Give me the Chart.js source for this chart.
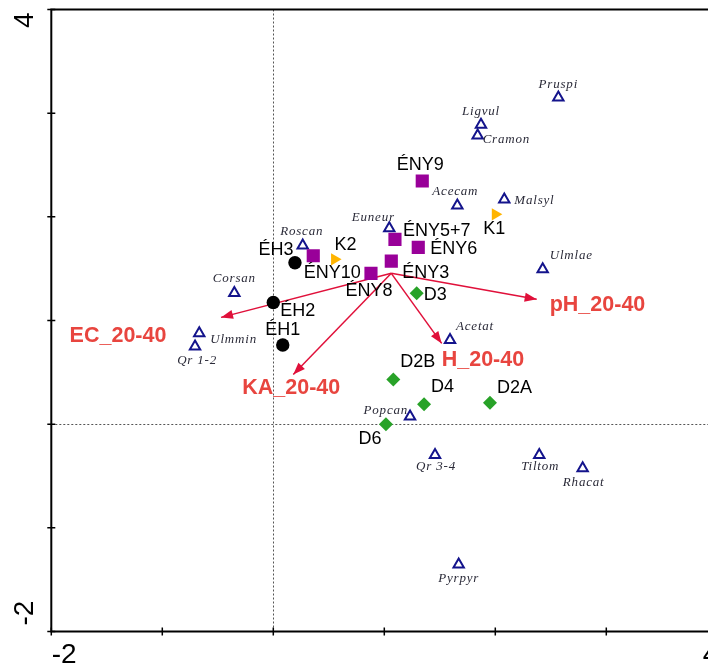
<!DOCTYPE html>
<html>
<head>
<meta charset="utf-8">
<script src="https://cdn.jsdelivr.net/npm/chart.js@4.4.1/dist/chart.umd.min.js"></script>
<style>
  html, body { margin: 0; padding: 0; background: #fff; overflow: hidden; width: 708px; height: 666px; }
  #wrap { position: absolute; left: 0; top: 0; width: 740px; height: 666px; }
</style>
</head>
<body>
<div id="wrap"><canvas id="c" width="740" height="666"></canvas></div>
<script>
// ---------------- DATA ----------------
const axisMin = -2;
const axisMax = 4;
const tickValues = [-2, -1, 0, 1, 2, 3, 4];
const tickLabels = ['-2', '4'];

// Sites
const enyNames = ['ÉNY9', 'ÉNY5+7', 'ÉNY6', 'ÉNY3', 'ÉNY10', 'ÉNY8'];
const enyX = [1.342, 1.096, 1.306, 1.063, 0.360, 0.880];
const enyY = [2.346, 1.783, 1.706, 1.573, 1.625, 1.455];

const kNames = ['K1', 'K2'];
const kX = [2.000, 0.552];
const kY = [2.024, 1.590];

const ehNames = ['ÉH3', 'ÉH2', 'ÉH1'];
const ehX = [0.195, 0.000, 0.085];
const ehY = [1.557, 1.173, 0.763];

const dNames = ['D3', 'D2B', 'D4', 'D2A', 'D6'];
const dX = [1.292, 1.081, 1.358, 1.952, 1.015];
const dY = [1.262, 0.431, 0.193, 0.206, 0.000];

// Species
const speciesNames = ['Pruspi', 'Ligvul', 'Cramon', 'Acecam', 'Malsyl', 'Euneur', 'Roscan', 'Corsan',
  'Ulmmin', 'Qr 1-2', 'Ulmlae', 'Acetat', 'Popcan', 'Qr 3-4', 'Tiltom', 'Rhacat', 'Pyrpyr'];
const speciesX = [2.568, 1.871, 1.841, 1.658, 2.081, 1.045, 0.265, -0.351,
  -0.667, -0.705, 2.427, 1.592, 1.232, 1.457, 2.396, 2.787, 1.670];
const speciesY = [3.152, 2.889, 2.785, 2.110, 2.167, 1.890, 1.723, 1.265,
  0.877, 0.749, 1.495, 0.813, 0.073, -0.297, -0.297, -0.426, -1.353];

// Environmental vectors
const envNames = ['EC_20-40', 'KA_20-40', 'H_20-40', 'pH_20-40'];
const envOriginX = 1.063;
const envOriginY = 1.455;
const envX = [-0.471, 0.180, 1.517, 2.373];
const envY = [1.030, 0.480, 0.779, 1.204];

// ---------------- STYLE ----------------
const SANS = '"Liberation Sans", Arial, sans-serif';
const SERIF = '"Liberation Serif", "Times New Roman", serif';
const arrowColor = '#e0103a';
const envLabelColor = '#e8453f';

// label offsets in px: [dx, dy, align]
const siteLabelPos = {
  'ÉNY9': [-2, -16, 'center'], 'ÉNY5+7': [8, -8, 'left'], 'ÉNY6': [12, 2, 'left'],
  'ÉNY3': [11, 12, 'left'], 'ÉNY10': [19, 17, 'center'], 'ÉNY8': [-2, 18, 'center'],
  'K1': [-1, 15, 'center'], 'K2': [11, -14, 'center'],
  'ÉH3': [-19, -13, 'center'], 'ÉH2': [7, 8, 'left'], 'ÉH1': [0, -15, 'center'],
  'D3': [7, 2, 'left'], 'D2B': [7, -17, 'left'], 'D4': [7, -17, 'left'], 'D2A': [7, -15, 'left'],
  'D6': [-16, 15, 'center']
};
const speciesLabelPos = {
  'Pruspi': [0, -13, 'center'], 'Ligvul': [0, -13, 'center'], 'Cramon': [5, 4, 'left'],
  'Acecam': [-2, -14, 'center'], 'Malsyl': [10, 1, 'left'], 'Euneur': [-16, -11, 'center'],
  'Roscan': [-1, -14, 'center'], 'Corsan': [0, -14, 'center'], 'Ulmmin': [11, 6, 'left'],
  'Qr 1-2': [2, 14, 'center'], 'Ulmlae': [7, -14, 'left'], 'Acetat': [6, -13, 'left'],
  'Popcan': [-2, -6, 'right'], 'Qr 3-4': [1, 12, 'center'], 'Tiltom': [1, 12, 'center'],
  'Rhacat': [1, 14, 'center'], 'Pyrpyr': [0, 14, 'center']
};
const envLabelPos = {
  'EC_20-40': [-103, 19, 'center'], 'KA_20-40': [-2, 14, 'center'],
  'H_20-40': [0, 17, 'left'], 'pH_20-40': [13, 6, 'left']
};

function pts(xs, ys) { return xs.map((x, i) => ({ x: x, y: ys[i] })); }

const datasets = [
  { label: 'ÉH', data: pts(ehX, ehY), pointStyle: 'circle', pointRadius: 6.7,
    backgroundColor: '#000', borderColor: '#000', borderWidth: 0, names: ehNames, kind: 'site' },
  { label: 'ÉNY', data: pts(enyX, enyY), pointStyle: 'rect', pointRadius: 9.3,
    backgroundColor: '#990099', borderColor: '#990099', borderWidth: 0, names: enyNames, kind: 'site' },
  { label: 'K', data: pts(kX, kY), pointStyle: 'triangle', rotation: 90, pointRadius: 7,
    backgroundColor: '#ffb400', borderColor: '#ffb400', borderWidth: 0, names: kNames, kind: 'site' },
  { label: 'D', data: pts(dX, dY), pointStyle: 'rectRot', pointRadius: 7,
    backgroundColor: '#28a228', borderColor: '#28a228', borderWidth: 0, names: dNames, kind: 'site' },
  { label: 'Species', data: pts(speciesX, speciesY), pointStyle: 'triangle', pointRadius: 6,
    backgroundColor: 'rgba(255,255,255,0)', borderColor: '#14148c', borderWidth: 2,
    names: speciesNames, kind: 'species' }
];
envNames.forEach((n, i) => {
  datasets.push({
    label: n, data: [{ x: envOriginX, y: envOriginY }, { x: envX[i], y: envY[i] }],
    showLine: true, pointRadius: 0, borderColor: arrowColor, borderWidth: 1.5, kind: 'env', envIndex: i
  });
});

const biplotPlugin = {
  id: 'biplot',
  beforeDatasetsDraw(chart) {
    const ctx = chart.ctx;
    const xs = chart.scales.x, ys = chart.scales.y;
    const a = chart.chartArea;
    ctx.save();
    // dotted zero lines
    ctx.strokeStyle = '#555';
    ctx.lineWidth = 1;
    ctx.setLineDash([2, 2]);
    const x0 = Math.round(xs.getPixelForValue(0)) + 0.5;
    const y0 = Math.round(ys.getPixelForValue(0)) + 0.5;
    ctx.beginPath();
    ctx.moveTo(x0, a.top); ctx.lineTo(x0, a.bottom);
    ctx.moveTo(a.left, y0); ctx.lineTo(a.right, y0);
    ctx.stroke();
    ctx.setLineDash([]);
    // frame
    ctx.strokeStyle = '#000';
    ctx.lineWidth = 2;
    ctx.strokeRect(a.left, a.top, a.right - a.left, a.bottom - a.top);
    // ticks
    ctx.lineWidth = 1.5;
    ctx.beginPath();
    tickValues.forEach(v => {
      const px = xs.getPixelForValue(v);
      ctx.moveTo(px, a.bottom - 4); ctx.lineTo(px, a.bottom + 4);
      const py = ys.getPixelForValue(v);
      ctx.moveTo(a.left - 4, py); ctx.lineTo(a.left + 4, py);
    });
    ctx.stroke();
    // tick labels
    ctx.fillStyle = '#000';
    ctx.font = '28px ' + SANS;
    ctx.textBaseline = 'middle';
    ctx.textAlign = 'left';
    ctx.fillText(tickLabels[0], xs.getPixelForValue(axisMin) + 0.5, a.bottom + 24);
    ctx.textAlign = 'right';
    ctx.fillText(tickLabels[1], xs.getPixelForValue(axisMax) + 1, a.bottom + 24);
    // y labels rotated
    ctx.save();
    ctx.translate(25, ys.getPixelForValue(axisMin) - 6);
    ctx.rotate(-Math.PI / 2);
    ctx.textAlign = 'left';
    ctx.fillText(tickLabels[0], 0, 0);
    ctx.restore();
    ctx.save();
    ctx.translate(25, ys.getPixelForValue(axisMax) + 3);
    ctx.rotate(-Math.PI / 2);
    ctx.textAlign = 'right';
    ctx.fillText(tickLabels[1], 0, 0);
    ctx.restore();
    ctx.restore();
  },
  afterDatasetsDraw(chart) {
    const ctx = chart.ctx;
    const xs = chart.scales.x, ys = chart.scales.y;
    ctx.save();
    // arrowheads
    const ox = xs.getPixelForValue(envOriginX), oy = ys.getPixelForValue(envOriginY);
    envNames.forEach((n, i) => {
      const tx = xs.getPixelForValue(envX[i]), ty = ys.getPixelForValue(envY[i]);
      const ang = Math.atan2(ty - oy, tx - ox);
      const L = 12, W = 4.5;
      ctx.fillStyle = arrowColor;
      ctx.beginPath();
      ctx.moveTo(tx, ty);
      ctx.lineTo(tx - L * Math.cos(ang) + W * Math.sin(ang), ty - L * Math.sin(ang) - W * Math.cos(ang));
      ctx.lineTo(tx - L * Math.cos(ang) - W * Math.sin(ang), ty - L * Math.sin(ang) + W * Math.cos(ang));
      ctx.closePath();
      ctx.fill();
      const p = envLabelPos[n];
      ctx.font = 'bold 21.5px ' + SANS;
      ctx.fillStyle = envLabelColor;
      ctx.textAlign = p[2];
      ctx.textBaseline = 'middle';
      ctx.fillText(n, tx + p[0], ty + p[1]);
    });
    // point labels
    chart.data.datasets.forEach(ds => {
      if (ds.kind !== 'site' && ds.kind !== 'species') return;
      ds.data.forEach((d, j) => {
        const name = ds.names[j];
        const px = xs.getPixelForValue(d.x), py = ys.getPixelForValue(d.y);
        let p;
        if (ds.kind === 'site') {
          p = siteLabelPos[name];
          ctx.font = '18px ' + SANS;
          ctx.fillStyle = '#000';
          ctx.letterSpacing = '0px';
        } else {
          p = speciesLabelPos[name];
          ctx.font = 'italic 13px ' + SERIF;
          ctx.fillStyle = '#2a2a38';
          ctx.letterSpacing = '0.8px';
        }
        ctx.textAlign = p[2];
        ctx.textBaseline = 'middle';
        ctx.fillText(name, px + p[0], py + p[1]);
      });
    });
    ctx.letterSpacing = '0px';
    ctx.restore();
  }
};

new Chart(document.getElementById('c'), {
  type: 'scatter',
  data: { datasets: datasets },
  options: {
    responsive: false,
    animation: false,
    events: [],
    layout: { padding: { left: 51.3, right: 740 - 717.3, top: 9.5, bottom: 666 - 631.5 } },
    plugins: { legend: { display: false }, tooltip: { enabled: false } },
    scales: {
      x: { type: 'linear', min: axisMin, max: axisMax, display: false },
      y: { type: 'linear', min: axisMin, max: axisMax, display: false }
    }
  },
  plugins: [biplotPlugin]
});
</script>
</body>
</html>
